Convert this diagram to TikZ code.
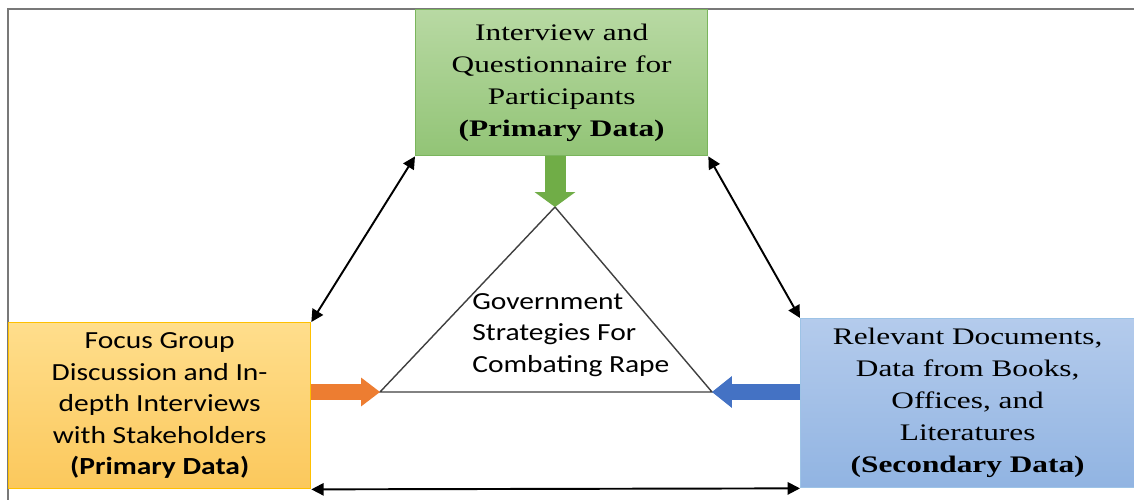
\documentclass[tikz,border=0pt]{standalone}
\usepackage{fontspec}
\setmainfont{Liberation Serif}[FakeStretch=1.32]
\newfontfamily\calfont{Carlito}[FakeStretch=1.2]
\usetikzlibrary{arrows.meta,positioning,calc}
\definecolor{grTop}{RGB}{184,217,163}
\definecolor{grBot}{RGB}{146,196,118}
\definecolor{grLine}{RGB}{122,181,92}
\definecolor{grArr}{RGB}{112,173,71}
\definecolor{orTop}{RGB}{255,222,140}
\definecolor{orBot}{RGB}{251,200,92}
\definecolor{orLine}{RGB}{255,192,0}
\definecolor{orArr}{RGB}{237,125,49}
\definecolor{blTop}{RGB}{180,203,236}
\definecolor{blBot}{RGB}{145,180,226}
\definecolor{blLine}{RGB}{157,195,230}
\definecolor{blArr}{RGB}{68,114,196}
\definecolor{frame}{RGB}{120,120,120}

\begin{document}
\begin{tikzpicture}[x=0.02cm,y=-0.02cm,>=Triangle]
\tikzstyle{Src}=[draw,line width=0.8pt,inner sep=0pt,align=center,anchor=north west]
\tikzstyle{SerifTxt}=[font=\fontsize{13.5}{18.2}\selectfont]
\tikzstyle{SansTxt}=[font=\calfont\fontsize{14}{18}\selectfont]
\tikzstyle{Link}=[<->,line width=1.1pt,>={Triangle[length=7pt,width=7pt]}]
% canvas and frame
\fill[white] (0,0) rectangle (1134,500);
\useasboundingbox (0,0) rectangle (1134,500);
\draw[frame,line width=1.3pt] (8,500) -- (8,9) -- (1134,9);
% the three sources
\node[Src,SerifTxt,draw=grLine,top color=grTop,bottom color=grBot,minimum width=5.84cm,minimum height=2.92cm] (prim) at (415,9)
  {Interview and\\Questionnaire for\\Participants\\\textbf{(Primary Data)}};
\node[Src,SansTxt,draw=orLine,top color=orTop,bottom color=orBot,minimum width=6.04cm,minimum height=3.32cm] (fgd) at (8,322)
  {Focus Group\\Discussion and In-\\depth Interviews\\with Stakeholders\\\textbf{(Primary Data)}};
\node[Src,SerifTxt,draw=blLine,top color=blTop,bottom color=blBot,minimum width=6.68cm,minimum height=3.38cm] (sec) at (800,318)
  {Relevant Documents,\\Data from Books,\\Offices, and\\Literatures\\\textbf{(Secondary Data)}};
% triangle in the middle
\coordinate (apex) at (555,207);
\coordinate (bl) at (380,392);
\coordinate (br) at (712,392);
\draw[black!75,line width=0.8pt] (apex) -- (bl) -- (br) -- cycle;
\node[SansTxt,align=left,anchor=west,inner sep=0pt] (gov) at (472,335) {Government\\Strategies For\\Combating Rape};
% block arrows into the triangle
\draw[grArr,line width=0.42cm,-{Triangle[length=0.3cm,width=0.82cm,line width=0pt]}] (apex |- prim.south) -- (apex);
\draw[orArr,line width=0.31cm,-{Triangle[length=0.38cm,width=0.58cm,line width=0pt]}] (fgd.east |- bl) -- (bl);
\draw[blArr,line width=0.31cm,-{Triangle[length=0.4cm,width=0.64cm,line width=0pt]}] (sec.west |- br) -- (br);
% links between the sources
\draw[Link] (fgd.north east) -- (prim.south west);
\draw[Link] (prim.south east) -- (sec.north west);
\draw[Link] (fgd.south east) -- (sec.south west);
\end{tikzpicture}
\end{document}
